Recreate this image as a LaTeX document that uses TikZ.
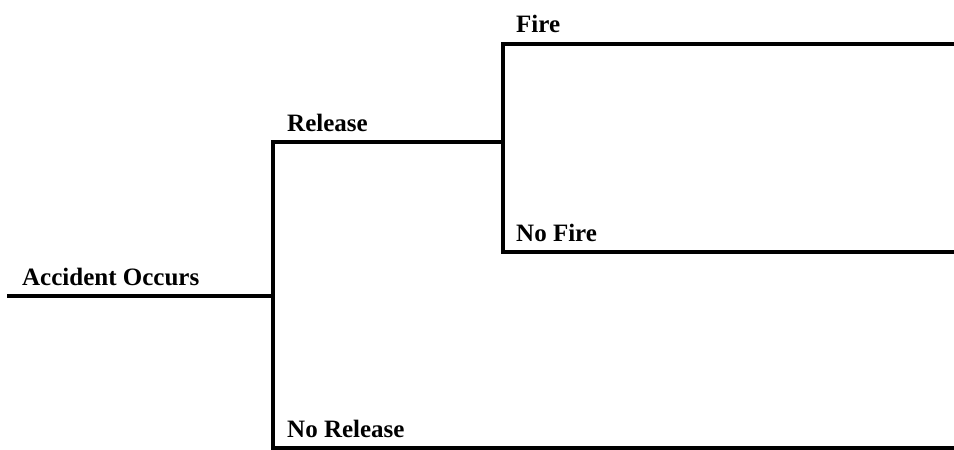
\documentclass[tikz,border=0pt]{standalone}
\usepackage{fontspec}
\setmainfont{Liberation Serif}

\begin{document}
\begin{tikzpicture}[x=1pt, y=-1pt,
  branch/.style={line width=4pt, line join=miter},
  lbl/.style={anchor=base west, inner sep=0pt, font=\fontsize{25}{30}\selectfont\bfseries}]
\useasboundingbox (0,0) rectangle (954,450);

% Initiating event
\coordinate (start) at (7,296);
\coordinate (root) at (272.5,296);

% Release / no release
\coordinate (rel_top) at (272.5,142);
\coordinate (rel_end) at (502.5,142);
\coordinate (norel_bot) at (272.5,448);
\coordinate (norel_end) at (954,448);

% Fire / no fire
\coordinate (fire_top) at (502.5,43.5);
\coordinate (fire_end) at (954,43.5);
\coordinate (nofire_bot) at (502.5,252);
\coordinate (nofire_end) at (954,252);

% Branches
\draw[branch] (start) -- (root);
\draw[branch] (rel_end) -- (rel_top) -- (norel_bot) -- (norel_end);
\draw[branch] (fire_end) -- (fire_top) -- (nofire_bot) -- (nofire_end);

% Labels
\node[lbl] (accident) at (22,285) {Accident Occurs};
\node[lbl] (release) at (287,131) {Release};
\node[lbl] (norelease) at (287,437) {No Release};
\node[lbl] (fire) at (516,32.5) {Fire};
\node[lbl] (nofire) at (516,241) {No Fire};
\end{tikzpicture}
\end{document}
